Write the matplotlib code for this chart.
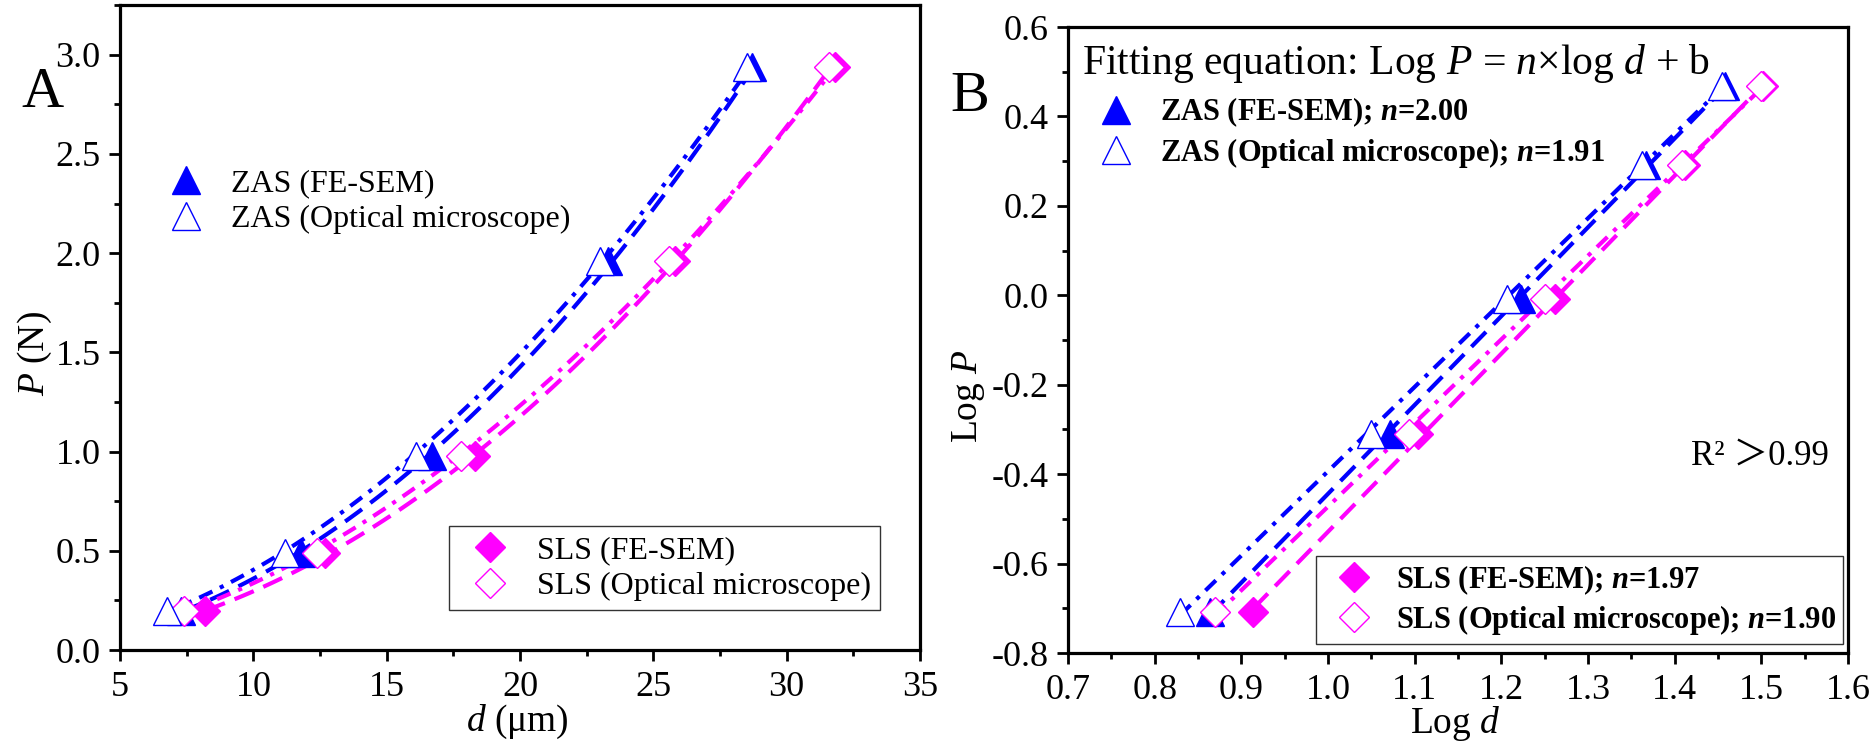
import matplotlib
matplotlib.use("Agg")
import matplotlib.pyplot as plt
import numpy as np
from matplotlib.ticker import MultipleLocator

BLUE = "#0000ff"
MAGENTA = "#ff00ff"

# indentation loads (N) and diagonals (um)
load_n = [0.196, 0.49, 0.98, 1.96, 2.94]
zas_sem_d = [7.3, 11.8, 16.7, 23.3, 28.7]
zas_opt_d = [6.75, 11.2, 16.1, 23.0, 28.5]
sls_sem_d = [8.2, 12.7, 18.3, 25.8, 31.8]
sls_opt_d = [7.4, 12.4, 17.8, 25.6, 31.6]

zas_labels = ["ZAS (FE-SEM)", "ZAS (Optical microscope)"]
sls_labels = ["SLS (FE-SEM)", "SLS (Optical microscope)"]
n_values = ["2.00", "1.91", "1.97", "1.90"]

SERIES = [
    # d, color, marker, filled, linestyle
    (zas_sem_d, BLUE, "^", True, (0, (5, 2.5))),
    (zas_opt_d, BLUE, "^", False, (0, (3.5, 2, 1, 2))),
    (sls_sem_d, MAGENTA, "D", True, (0, (5, 2.5))),
    (sls_opt_d, MAGENTA, "D", False, (0, (3.5, 2, 1, 2))),
]


def setup_style():
    plt.rcParams.update({
        "font.family": "Liberation Serif", "font.size": 25,
        "mathtext.fontset": "custom",
        "mathtext.rm": "Liberation Serif",
        "mathtext.it": "Liberation Serif:italic",
        "mathtext.bf": "Liberation Serif:bold",
        "mathtext.bfit": "Liberation Serif:bold:italic",
        "axes.linewidth": 2.3,
        "xtick.direction": "out", "ytick.direction": "out",
        "xtick.major.size": 8, "ytick.major.size": 8,
        "xtick.minor.size": 4, "ytick.minor.size": 4,
        "xtick.major.width": 2, "ytick.major.width": 2,
        "xtick.minor.width": 2, "ytick.minor.width": 2,
        "xtick.major.pad": 7, "ytick.major.pad": 6,
        "xtick.labelsize": 26, "ytick.labelsize": 26,
        "legend.fontsize": 23,
    })


def mstyle(marker, color, filled):
    ms = 20 if marker == "^" else 15.5
    return dict(marker=marker, ms=ms, mec=color, mew=1.0,
                mfc=color if filled else "white", linestyle="none")


def fit_line(x, y):
    n, b = np.polyfit(np.log10(x), np.log10(y), 1)
    return n, b


def panel_a(ax):
    for d, c, m, filled, ls in SERIES:
        n, b = fit_line(d, load_n)
        xs = np.linspace(min(d), max(d), 100)
        ax.plot(xs, 10 ** b * xs ** n, color=c, lw=3, linestyle=ls, zorder=2)
    for i in [2, 0, 3, 1]:
        d, c, m, filled, ls = SERIES[i]
        ax.plot(d, load_n, zorder=3, **mstyle(m, c, filled))
    hs = [plt.Line2D([], [], **mstyle(m, c, f)) for d, c, m, f, ls in SERIES]

    ax.set_xlim(5, 35); ax.set_ylim(0, 3.25)
    ax.xaxis.set_major_locator(MultipleLocator(5)); ax.xaxis.set_minor_locator(MultipleLocator(2.5))
    ax.yaxis.set_major_locator(MultipleLocator(0.5)); ax.yaxis.set_minor_locator(MultipleLocator(0.25))
    ax.yaxis.set_major_formatter(lambda v, p: f"{v:.1f}")
    ax.set_xlabel(r"$d$ (μm)", fontsize=27)
    ax.set_ylabel(r"$P$ (N)", fontsize=27)
    ax.xaxis.set_label_coords(0.497, -0.082)
    ax.yaxis.set_label_coords(-0.083, 0.46)

    leg1 = ax.legend(hs[:2], zas_labels, loc="upper left", bbox_to_anchor=(0.0625, 0.746),
                     frameon=False, borderpad=0, borderaxespad=0, handlelength=1.0,
                     handletextpad=0.9, labelspacing=0.2)
    ax.add_artist(leg1)
    leg2 = ax.legend(hs[2:], sls_labels, loc="upper left", bbox_to_anchor=(0.411, 0.192),
                     frameon=True, fancybox=False, edgecolor="black", borderpad=0.3,
                     borderaxespad=0, handlelength=2.0, handletextpad=0.45, labelspacing=0.2)
    leg2.get_frame().set_linewidth(1.0)


def panel_b(ax):
    logp = np.log10(load_n)
    for d, c, m, filled, ls in SERIES:
        logd = np.log10(d)
        n, b = fit_line(d, load_n)
        xs = np.linspace(logd.min(), logd.max(), 50)
        ax.plot(xs, n * xs + b, color=c, lw=3, linestyle=ls, zorder=2)
    for i in [2, 0, 3, 1]:
        d, c, m, filled, ls = SERIES[i]
        ax.plot(np.log10(d), logp, zorder=3, **mstyle(m, c, filled))
    hs = [plt.Line2D([], [], **mstyle(m, c, f)) for d, c, m, f, ls in SERIES]
    labels = [f"{lab}; $\\mathbfit{{n}}$={nv}" for lab, nv in zip(zas_labels + sls_labels, n_values)]

    ax.set_xlim(0.7, 1.6); ax.set_ylim(-0.8, 0.6)
    ax.xaxis.set_major_locator(MultipleLocator(0.1)); ax.xaxis.set_minor_locator(MultipleLocator(0.05))
    ax.yaxis.set_major_locator(MultipleLocator(0.2)); ax.yaxis.set_minor_locator(MultipleLocator(0.1))
    ax.xaxis.set_major_formatter(lambda v, p: f"{v:.1f}")
    ax.yaxis.set_major_formatter(lambda v, p: f"{v:.1f}".replace("-0.0", "0.0"))
    ax.set_xlabel(r"Log $d$", fontsize=27)
    ax.set_ylabel(r"Log $P$", fontsize=27)
    ax.xaxis.set_label_coords(0.497, -0.082)
    ax.yaxis.set_label_coords(-0.104, 0.41)

    ax.text(0.018, 0.925, r"Fitting equation: Log $P$ = $n$×log $d$ + b",
            transform=ax.transAxes, fontsize=30, ha="left", va="baseline")
    ax.text(0.975, 0.315, "R\u00b2 \uff1e0.99", transform=ax.transAxes,
            fontsize=25, ha="right", va="center",
            family=["Liberation Serif", "Noto Sans CJK SC", "DejaVu Sans"])

    bold = {"weight": "bold", "size": 22}
    leg1 = ax.legend(hs[:2], labels[:2], loc="upper left", bbox_to_anchor=(0.0423, 0.89),
                     frameon=False, borderpad=0, borderaxespad=0, handlelength=1.0,
                     handletextpad=0.93, labelspacing=0.2, prop=bold)
    ax.add_artist(leg1)
    leg2 = ax.legend(hs[2:], labels[2:], loc="upper left", bbox_to_anchor=(0.318, 0.155),
                     frameon=True, fancybox=False, edgecolor="black", borderpad=0.24,
                     borderaxespad=0, handlelength=2.0, handletextpad=0.37, labelspacing=0.2,
                     prop=bold)
    leg2.get_frame().set_linewidth(1.0)


def main():
    setup_style()
    fig = plt.figure(figsize=(18.76, 7.56), dpi=100)
    ax_a = fig.add_axes([0.064, 0.1402, 0.4264, 0.853])
    ax_b = fig.add_axes([0.5693, 0.1362, 0.4158, 0.828])
    panel_a(ax_a)
    panel_b(ax_b)
    fig.text(42 / 1876, 1 - 93 / 756, "A", fontsize=42, ha="center", va="center")
    fig.text(970 / 1876, 1 - 97 / 756, "B", fontsize=42, ha="center", va="center")
    fig.savefig("out.png", dpi=100)
    plt.close(fig)


if __name__ == "__main__":
    main()
